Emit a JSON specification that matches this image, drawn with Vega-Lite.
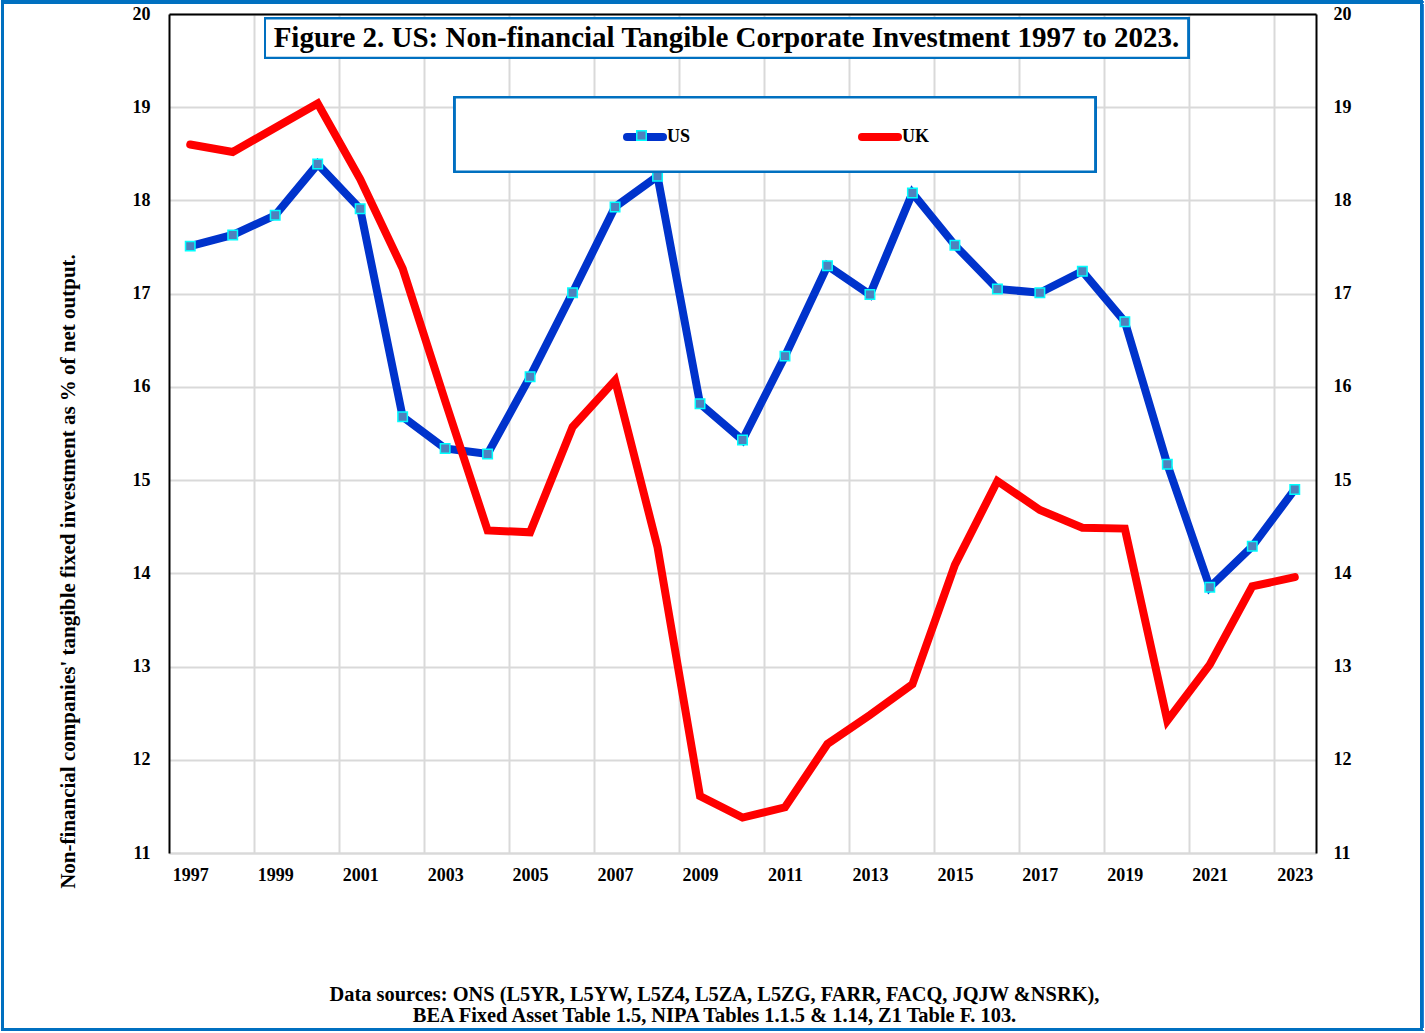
{
  "$schema": "https://vega.github.io/schema/vega-lite/v6.json",
  "width": 1147,
  "height": 839,
  "autosize": {"type": "none"},
  "padding": {"left": 169, "top": 14, "right": 109, "bottom": 180},
  "background": "white",
  "title": {
    "text": "Figure 2. US: Non-financial Tangible Corporate Investment 1997 to 2023.",
    "font": "Liberation Serif",
    "fontSize": 29,
    "fontWeight": "bold",
    "color": "black",
    "anchor": "middle",
    "frame": "group",
    "baseline": "middle",
    "offset": 0,
    "dx": -16,
    "dy": 66
  },
  "config": {
    "view": {"stroke": null},
    "font": "Liberation Serif"
  },
  "data": {
    "values": [
      {"year": 1997, "series": "US", "value": 17.51},
      {"year": 1998, "series": "US", "value": 17.63},
      {"year": 1999, "series": "US", "value": 17.84},
      {"year": 2000, "series": "US", "value": 18.39},
      {"year": 2001, "series": "US", "value": 17.91},
      {"year": 2002, "series": "US", "value": 15.68},
      {"year": 2003, "series": "US", "value": 15.34},
      {"year": 2004, "series": "US", "value": 15.28},
      {"year": 2005, "series": "US", "value": 16.11},
      {"year": 2006, "series": "US", "value": 17.01},
      {"year": 2007, "series": "US", "value": 17.93},
      {"year": 2008, "series": "US", "value": 18.26},
      {"year": 2009, "series": "US", "value": 15.82},
      {"year": 2010, "series": "US", "value": 15.43},
      {"year": 2011, "series": "US", "value": 16.33},
      {"year": 2012, "series": "US", "value": 17.30},
      {"year": 2013, "series": "US", "value": 16.99},
      {"year": 2014, "series": "US", "value": 18.08},
      {"year": 2015, "series": "US", "value": 17.52},
      {"year": 2016, "series": "US", "value": 17.05},
      {"year": 2017, "series": "US", "value": 17.01},
      {"year": 2018, "series": "US", "value": 17.24},
      {"year": 2019, "series": "US", "value": 16.70},
      {"year": 2020, "series": "US", "value": 15.17},
      {"year": 2021, "series": "US", "value": 13.85},
      {"year": 2022, "series": "US", "value": 14.29},
      {"year": 2023, "series": "US", "value": 14.90},
      {"year": 1997, "series": "UK", "value": 18.60},
      {"year": 1998, "series": "UK", "value": 18.52},
      {"year": 1999, "series": "UK", "value": 18.78},
      {"year": 2000, "series": "UK", "value": 19.04},
      {"year": 2001, "series": "UK", "value": 18.23},
      {"year": 2002, "series": "UK", "value": 17.27},
      {"year": 2003, "series": "UK", "value": 15.85},
      {"year": 2004, "series": "UK", "value": 14.46},
      {"year": 2005, "series": "UK", "value": 14.44},
      {"year": 2006, "series": "UK", "value": 15.57},
      {"year": 2007, "series": "UK", "value": 16.07},
      {"year": 2008, "series": "UK", "value": 14.28},
      {"year": 2009, "series": "UK", "value": 11.61},
      {"year": 2010, "series": "UK", "value": 11.38},
      {"year": 2011, "series": "UK", "value": 11.49},
      {"year": 2012, "series": "UK", "value": 12.17},
      {"year": 2013, "series": "UK", "value": 12.48},
      {"year": 2014, "series": "UK", "value": 12.81},
      {"year": 2015, "series": "UK", "value": 14.09},
      {"year": 2016, "series": "UK", "value": 14.99},
      {"year": 2017, "series": "UK", "value": 14.68},
      {"year": 2018, "series": "UK", "value": 14.49},
      {"year": 2019, "series": "UK", "value": 14.48},
      {"year": 2020, "series": "UK", "value": 12.42},
      {"year": 2021, "series": "UK", "value": 13.02},
      {"year": 2022, "series": "UK", "value": 13.86},
      {"year": 2023, "series": "UK", "value": 13.96}
    ]
  },
  "layer": [
    {
      "mark": {"type": "line", "strokeWidth": 8, "strokeCap": "round"},
      "encoding": {
        "x": {
          "field": "year",
          "type": "quantitative",
          "scale": {"domain": [1996.5, 2023.5], "nice": false, "zero": false},
          "axis": {
            "orient": "bottom",
            "values": [1997, 1999, 2001, 2003, 2005, 2007, 2009, 2011, 2013, 2015, 2017, 2019, 2021, 2023],
            "format": "d",
            "grid": false,
            "ticks": false,
            "tickSize": 0,
            "domain": true,
            "domainColor": "#d9d9d9",
            "domainWidth": 2,
            "labelFont": "Liberation Serif",
            "labelFontWeight": "bold",
            "labelFontSize": 18,
            "labelColor": "black",
            "labelPadding": 13,
            "labelFlush": false,
            "labelOverlap": false,
            "title": ["Data sources: ONS (L5YR, L5YW, L5Z4, L5ZA, L5ZG, FARR, FACQ, JQJW &NSRK),", "BEA Fixed Asset Table 1.5, NIPA Tables 1.1.5 & 1.14, Z1 Table F. 103."],
            "titleFont": "Liberation Serif",
            "titleFontWeight": "bold",
            "titleFontSize": 20.4,
            "titleColor": "black",
            "titleLineHeight": 21,
            "titleX": 545,
            "titleY": 131,
            "titleAlign": "center",
            "titleBaseline": "top",
            "titleAngle": 0
          }
        },
        "y": {
          "field": "value",
          "type": "quantitative",
          "scale": {"domain": [11, 20], "nice": false, "zero": false},
          "axis": {
            "orient": "left",
            "values": [11, 12, 13, 14, 15, 16, 17, 18, 19, 20],
            "grid": true,
            "gridColor": "#d9d9d9",
            "gridWidth": 2,
            "ticks": false,
            "tickSize": 0,
            "domain": true,
            "domainColor": "black",
            "domainWidth": 2,
            "labelFont": "Liberation Serif",
            "labelFontWeight": "bold",
            "labelFontSize": 18,
            "labelColor": "black",
            "labelPadding": 19,
            "title": "Non-financial companies' tangible fixed investment as % of net output.",
            "titleFont": "Liberation Serif",
            "titleFontWeight": "bold",
            "titleFontSize": 21,
            "titleColor": "black",
            "titleAngle": 270,
            "titleX": -101,
            "titleY": 557,
            "titleAlign": "center",
            "titleBaseline": "middle"
          }
        },
        "color": {
          "field": "series",
          "type": "nominal",
          "scale": {"domain": ["US", "UK"], "range": ["#0033CC", "#FF0000"]},
          "legend": {
            "orient": "none",
            "legendX": 454,
            "legendY": 101,
            "direction": "horizontal",
            "title": null,
            "symbolType": "stroke",
            "symbolSize": 1296,
            "symbolStrokeWidth": 8,
            "labelFont": "Liberation Serif",
            "labelFontWeight": "bold",
            "labelFontSize": 18,
            "labelColor": "black",
            "labelOffset": 0,
            "columnPadding": 155,
            "padding": 0,
            "encode": {"symbols": {"update": {"strokeCap": {"value": "round"}}}}
          }
        }
      }
    },
    {
      "transform": [{"filter": "datum.series === 'US'"}],
      "mark": {"type": "point", "shape": "square", "size": 90, "filled": true, "opacity": 1, "stroke": "#00FFFF", "strokeWidth": 1.5},
      "encoding": {
        "x": {"field": "year", "type": "quantitative", "axis": null},
        "y": {"field": "value", "type": "quantitative", "axis": null},
        "fill": {
          "field": "series",
          "type": "nominal",
          "scale": {"domain": ["US"], "range": ["#4F81BD"]},
          "legend": {
            "orient": "none",
            "legendX": 467,
            "legendY": 116,
            "title": null,
            "symbolType": "square",
            "symbolSize": 90,
            "symbolStrokeColor": "#00FFFF",
            "symbolStrokeWidth": 1.5,
            "labelExpr": "''",
            "padding": 0,
            "zindex": 1
          }
        }
      }
    },
    {
      "mark": {"type": "rect", "fill": "white", "stroke": "#0070C0", "strokeWidth": 2},
      "encoding": {
        "x": {"datum": 2003.23, "type": "quantitative", "axis": null},
        "x2": {"datum": 2018.3},
        "y": {"datum": 19.104, "type": "quantitative", "axis": null},
        "y2": {"datum": 18.31}
      }
    },
    {
      "mark": {"type": "rect", "fill": "white", "stroke": "#0070C0", "strokeWidth": 2},
      "encoding": {
        "x": {
          "datum": 1998.76,
          "type": "quantitative",
          "axis": {
            "orient": "top",
            "values": [1998.5, 2000.5, 2002.5, 2004.5, 2006.5, 2008.5, 2010.5, 2012.5, 2014.5, 2016.5, 2018.5, 2020.5, 2022.5],
            "grid": true,
            "gridColor": "#d9d9d9",
            "gridWidth": 2,
            "labels": false,
            "ticks": false,
            "tickSize": 0,
            "domain": true,
            "domainColor": "black",
            "domainWidth": 2,
            "title": null
          }
        },
        "x2": {"datum": 2020.49},
        "y": {
          "datum": 19.951,
          "type": "quantitative",
          "axis": {
            "orient": "right",
            "values": [11, 12, 13, 14, 15, 16, 17, 18, 19, 20],
            "grid": false,
            "ticks": false,
            "tickSize": 0,
            "domain": true,
            "domainColor": "black",
            "domainWidth": 2,
            "labelFont": "Liberation Serif",
            "labelFontWeight": "bold",
            "labelFontSize": 18,
            "labelColor": "black",
            "labelPadding": 17,
            "title": null
          }
        },
        "y2": {"datum": 19.532}
      }
    },
    {
      "mark": {"type": "rect", "fill": null, "fillOpacity": 0, "stroke": "#0070C0", "strokeWidth": 2.5},
      "encoding": {
        "x": {"datum": 1992.58, "type": "quantitative", "axis": null},
        "x2": {"datum": 2025.99},
        "y": {"datum": 20.128, "type": "quantitative", "axis": null},
        "y2": {"datum": 9.105}
      }
    }
  ]
}
